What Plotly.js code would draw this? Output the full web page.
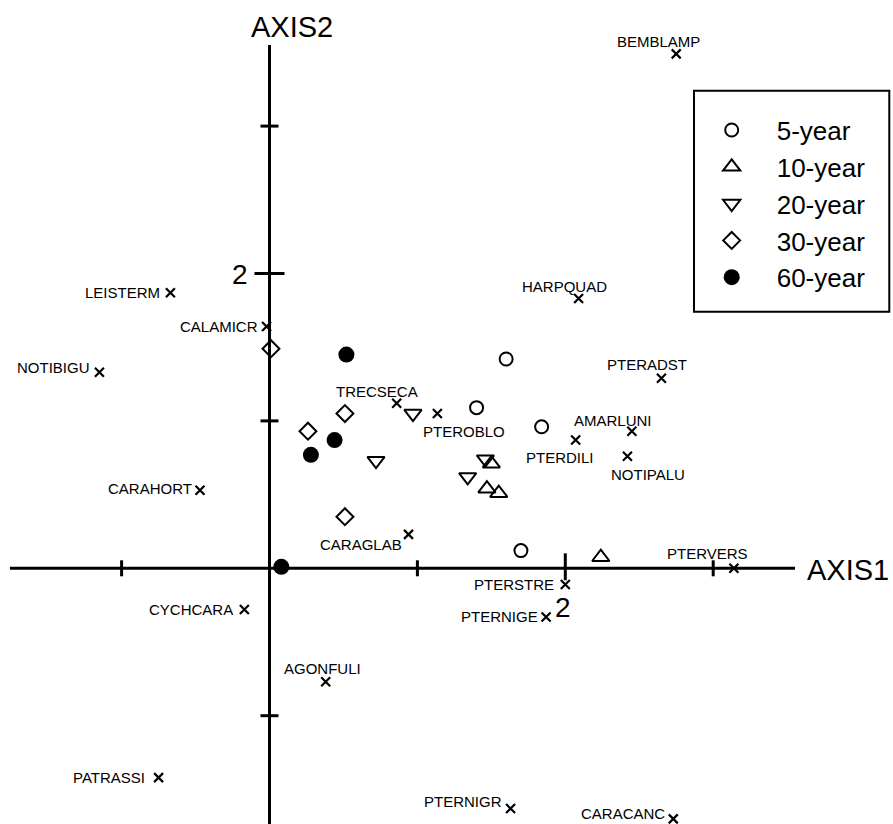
<!DOCTYPE html>
<html><head><meta charset="utf-8">
<script src="https://cdn.plot.ly/plotly-3.0.1.min.js"></script>
<style>html,body{margin:0;padding:0;background:#fff;}#chart{width:893px;height:824px;}</style>
</head><body><div id="chart"></div>
<script>
// ---- Sample scores on ordination axes, by stand age ----
const groupNames = ['5-year', '10-year', '20-year', '30-year', '60-year'];
const x5  = [1.60, 1.40, 1.84, 1.70];
const y5  = [1.42, 1.09, 0.96, 0.12];
const x10 = [1.50, 1.47, 1.55, 2.24];
const y10 = [0.71, 0.54, 0.51, 0.075];
const x20 = [0.97, 0.72, 1.46, 1.34];
const y20 = [1.05, 0.73, 0.74, 0.62];
const x30 = [0.01, 0.51, 0.26, 0.51];
const y30 = [1.49, 1.05, 0.93, 0.35];
const x60 = [0.52, 0.44, 0.28, 0.08];
const y60 = [1.45, 0.87, 0.77, 0.01];

// ---- Species scores ----
const species = ['BEMBLAMP','HARPQUAD','LEISTERM','CALAMICR','NOTIBIGU','PTERADST','TRECSECA',
  'PTEROBLO','AMARLUNI','PTERDILI','NOTIPALU','CARAHORT','CARAGLAB','PTERVERS','PTERSTRE',
  'CYCHCARA','PTERNIGE','AGONFULI','PATRASSI','PTERNIGR','CARACANC'];
const speciesX = [2.75, 2.09, -0.67, -0.02, -1.15, 2.65, 0.86, 1.135, 2.45, 2.07, 2.42,
  -0.47, 0.94, 3.14, 2.00, -0.17, 1.87, 0.38, -0.75, 1.63, 2.73];
const speciesY = [3.49, 1.83, 1.87, 1.64, 1.33, 1.29, 1.12, 1.05, 0.93, 0.87, 0.76,
  0.53, 0.23, 0.00, -0.11, -0.28, -0.33, -0.77, -1.42, -1.63, -1.70];

// ---- Axis ticks ----
const axisTicks = [-1, 1, 2, 3];
const labelledTick = 2;
const tickLabelText = '2';
const axisTitles = ['AXIS1', 'AXIS2'];

// ---- Layout / style settings (not data) ----
const FONT = 'Liberation Sans, Arial, Helvetica, sans-serif';
const W = 893, H = 824;
const xRange = [-1.8222, 4.2157];
const yRange = [-1.7347, 3.8555];
const pxX = (xRange[1] - xRange[0]) / W;
const pxY = (yRange[1] - yRange[0]) / H;
const axisExtent = {xMin: -1.755, xMax: 3.553, yMin: -1.8, yMax: 3.55};
// label offsets (pixels) of text centre from its species marker
const labelOffset = {
  BEMBLAMP: [-18, -12], HARPQUAD: [-14, -12], LEISTERM: [-48, 0], CALAMICR: [-48, 0],
  NOTIBIGU: [-46, -5], PTERADST: [-14, -14], TRECSECA: [-20, -12], PTEROBLO: [27, 18],
  AMARLUNI: [-19, -11], PTERDILI: [-16, 17], NOTIPALU: [21, 18], CARAHORT: [-50, -2],
  CARAGLAB: [-48, 10], PTERVERS: [-26, -15], PTERSTRE: [-51, 0], CYCHCARA: [-53, 0],
  PTERNIGE: [-47, 0], AGONFULI: [-3, -13], PATRASSI: [-50, 0], PTERNIGR: [-48, -7],
  CARACANC: [-50, -5]
};

const groupX = [x5, x10, x20, x30, x60];
const groupY = [y5, y10, y20, y30, y60];
const groupMarker = [
  {symbol: 'circle-open', size: 13, color: '#000', line: {width: 2, color: '#000'}},
  {symbol: 'triangle-up-open', size: 15, color: '#000', line: {width: 2, color: '#000'}},
  {symbol: 'triangle-down-open', size: 15, color: '#000', line: {width: 2, color: '#000'}},
  {symbol: 'diamond-open', size: 13, color: '#000', line: {width: 2, color: '#000'}},
  {symbol: 'circle', size: 16, color: '#000', line: {width: 0}}
];

const traces = [{
  type: 'scatter', mode: 'markers', x: speciesX, y: speciesY, showlegend: false,
  cliponaxis: false, hoverinfo: 'skip',
  marker: {symbol: 'x-thin', size: 9, color: '#000', line: {width: 2.2, color: '#000'}}
}];
groupNames.forEach((g, i) => {
  traces.push({type: 'scatter', mode: 'markers', name: g, x: groupX[i], y: groupY[i],
    cliponaxis: false, marker: groupMarker[i]});
});

const blackLine = w => ({color: '#000', width: w});
const shapes = [
  {type: 'line', layer: 'below', xref: 'x', yref: 'y', x0: axisExtent.xMin, x1: axisExtent.xMax, y0: 0, y1: 0, line: blackLine(3)},
  {type: 'line', layer: 'below', xref: 'x', yref: 'y', x0: 0, x1: 0, y0: axisExtent.yMin, y1: axisExtent.yMax, line: blackLine(3)}
];
axisTicks.forEach(t => {
  const big = t === labelledTick;
  shapes.push({type: 'line', layer: 'below', xref: 'x', yref: 'y', x0: t, x1: t,
    y0: (big ? -12 : -8) * pxY, y1: (big ? 15 : 8) * pxY, line: blackLine(3)});
  shapes.push({type: 'line', layer: 'below', xref: 'x', yref: 'y', y0: t, y1: t,
    x0: (big ? -15 : -9) * pxX, x1: (big ? 15 : 9) * pxX, line: blackLine(3)});
});
// legend frame
shapes.push({type: 'rect', xref: 'paper', yref: 'paper', x0: 694 / W, x1: 889.3 / W,
  y0: 1 - 311.7 / H, y1: 1 - 90.7 / H, line: blackLine(2), fillcolor: 'rgba(0,0,0,0)'});

const annotations = species.map((s, i) => ({
  x: speciesX[i], y: speciesY[i], xref: 'x', yref: 'y', text: s, showarrow: false,
  xanchor: 'center', yanchor: 'middle', xshift: labelOffset[s][0], yshift: -labelOffset[s][1],
  font: {family: FONT, size: 15, color: '#000'}
}));
annotations.push(
  {x: axisExtent.xMax, y: 0, xref: 'x', yref: 'y', text: axisTitles[0], showarrow: false,
   xanchor: 'left', yanchor: 'middle', xshift: 10, yshift: -2, font: {family: FONT, size: 29, color: '#000'}},
  {x: 0, y: axisExtent.yMax, xref: 'x', yref: 'y', text: axisTitles[1], showarrow: false,
   xanchor: 'center', yanchor: 'middle', xshift: 22, yshift: 18, font: {family: FONT, size: 29, color: '#000'}},
  {x: labelledTick, y: 0, xref: 'x', yref: 'y', text: tickLabelText, showarrow: false,
   xanchor: 'center', yanchor: 'middle', xshift: -2, yshift: -39, font: {family: FONT, size: 28, color: '#000'}},
  {x: 0, y: labelledTick, xref: 'x', yref: 'y', text: tickLabelText, showarrow: false,
   xanchor: 'center', yanchor: 'middle', xshift: -30, yshift: -1, font: {family: FONT, size: 28, color: '#000'}}
);

const layout = {
  width: W, height: H, margin: {l: 0, r: 0, t: 0, b: 0, pad: 0},
  paper_bgcolor: '#fff', plot_bgcolor: '#fff',
  xaxis: {range: xRange, visible: false, fixedrange: true},
  yaxis: {range: yRange, visible: false, fixedrange: true},
  showlegend: true,
  legend: {x: 686.7 / W, y: 1 - 106.6 / H, xanchor: 'left', yanchor: 'top', itemwidth: 80,
    bgcolor: 'rgba(0,0,0,0)', borderwidth: 0, font: {family: FONT, size: 26, color: '#000'}},
  shapes: shapes, annotations: annotations, font: {family: FONT, color: '#000'}
};
Plotly.newPlot('chart', traces, layout, {displayModeBar: false, staticPlot: true});
</script></body></html>
